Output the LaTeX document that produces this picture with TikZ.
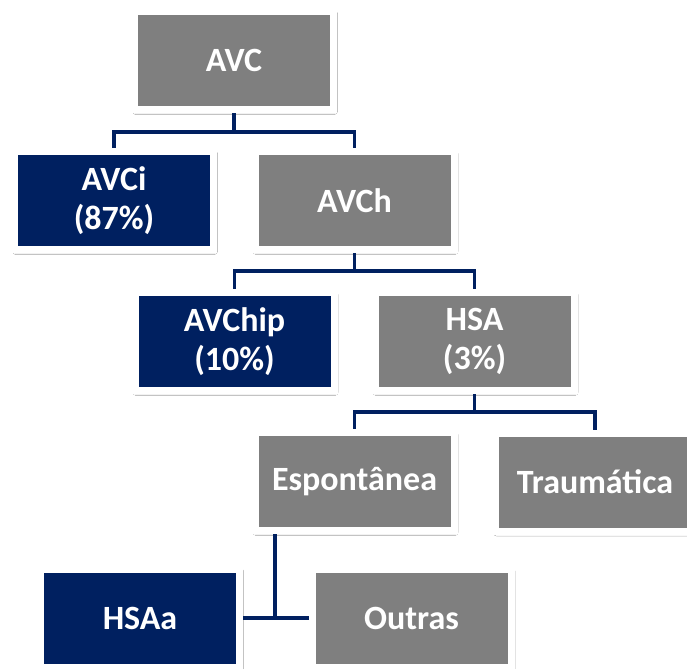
\documentclass[tikz,border=0pt]{standalone}
\usepackage{fontspec}
\setmainfont{Carlito}
\usepackage{tikz}
\usetikzlibrary{shadows.blur}
\definecolor{navy}{HTML}{002060}
\definecolor{boxgray}{HTML}{7F7F7F}

\begin{document}
\begin{tikzpicture}[x=1pt, y=-1pt,
    box/.style={rectangle, draw=white, line width=7pt, minimum width=199pt, minimum height=98pt, inner sep=0pt,
        text=white, align=center, font=\fontsize{34}{39}\selectfont\bfseries,
        blur shadow={shadow xshift=1pt, shadow yshift=-2pt, shadow blur radius=3pt, shadow opacity=35}},
    grey/.style={box, fill=boxgray},
    blue/.style={box, fill=navy},
    conn/.style={draw=navy, line width=3.5pt}]
    \useasboundingbox[fill=white] (0,0) rectangle (687,669);
    \node[grey] (avc) at (234,60.5) {AVC};
    \node[blue] (avci) at (114,200.5) {AVCi\\(87\%)};
    \node[grey] (avch) at (354.5,200.5) {AVCh};
    \node[blue] (avchip) at (234.5,341.5) {AVChip\\(10\%)};
    \node[grey] (hsa) at (474.5,341.5) {HSA\\(3\%)};
    \node[grey] (esp) at (354.5,481.5) {Espontânea};
    \node[grey] (trau) at (595,482) {Traumática};
    \node[blue] (hsaa) at (140,618) {HSAa};
    \node[grey] (outras) at (411.5,618) {Outras};
    \coordinate (split) at (275,618);
    \draw[conn] (avc.south) -- ++(0,19) -| (avci.north);
    \draw[conn] (avc.south) -- ++(0,19) -| (avch.north);
    \draw[conn] (avch.south) -- ++(0,18) -| (avchip.north);
    \draw[conn] (avch.south) -- ++(0,18) -| (hsa.north);
    \draw[conn] (hsa.south) -- ++(0,18) -| (esp.north);
    \draw[conn] (hsa.south) -- ++(0,18) -| (trau.north);
    \draw[conn] (split |- esp.south) -- (split);
    \draw[conn] (hsaa.east) -- (outras.west);
\end{tikzpicture}
\end{document}
